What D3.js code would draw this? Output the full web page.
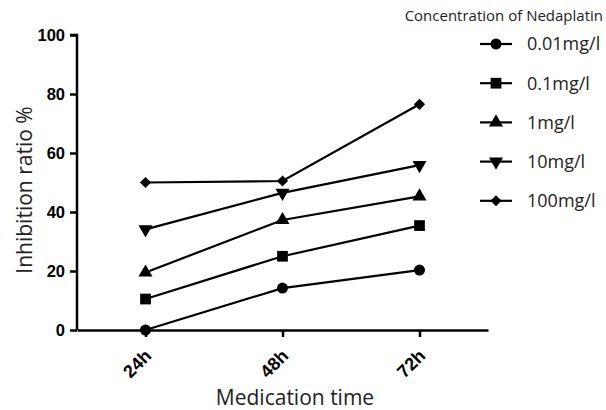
<!DOCTYPE html>
<html>
<head>
<meta charset="utf-8">
<script src="https://cdn.jsdelivr.net/npm/d3@7"></script>
<style>
  body { margin: 0; background: #fff; }
  svg { display: block; }
</style>
</head>
<body>
<div class="container"></div>
<script>
'use strict';

// Data.
var times = ['24h', '48h', '72h'];
var concentrations = ['0.01mg/l', '0.1mg/l', '1mg/l', '10mg/l', '100mg/l'];
var conc001 = [0, 14.2, 20.3];
var conc01 = [10.5, 25, 35.4];
var conc1 = [19.5, 37.3, 45.3];
var conc10 = [34.1, 46.5, 55.9];
var conc100 = [50, 50.5, 76.5];
var yTicks = [0, 20, 40, 60, 80, 100];

var seriesValues = [conc001, conc01, conc1, conc10, conc100];
var symbols = [d3.symbolCircle, d3.symbolSquare, d3.symbolTriangle, d3.symbolTriangle, d3.symbolSquare];
var symbolRotations = [0, 0, 0, 180, 45];
var symbolSizes = [95, 115, 85, 85, 62];

var width = 606, height = 410;
var plotLeft = 77, plotRight = 488, plotTop = 35, plotBottom = 330;

var svg = d3.select('.container').append('svg')
  .attr('width', width)
  .attr('height', height);

var x = d3.scalePoint().domain(times).range([plotLeft, plotRight]).padding(0.5);
var y = d3.scaleLinear().domain([0, 100]).range([plotBottom, plotTop]);

function symbolPath(i) {
  return d3.symbol().type(symbols[i]).size(symbolSizes[i])();
}
function symbolRotate(i) {
  return symbolRotations[i] ? ' rotate(' + symbolRotations[i] + ')' : '';
}

// Y axis
var yAxis = svg.append('g')
  .attr('transform', 'translate(' + plotLeft + ',0)')
  .call(d3.axisLeft(y).tickValues(yTicks).tickSize(7).tickPadding(5));
yAxis.select('.domain').attr('stroke-width', 2.5).attr('d', 'M-7,' + plotTop + 'H0V' + plotBottom);
yAxis.selectAll('.tick line').attr('stroke-width', 2.5);
yAxis.selectAll('.tick text')
  .attr('font-family', 'Liberation Sans, Arial, sans-serif')
  .attr('font-weight', 'bold')
  .attr('font-size', 16.5)
  .attr('fill', '#000');

// X axis
var xAxis = svg.append('g')
  .attr('transform', 'translate(0,' + plotBottom + ')')
  .call(d3.axisBottom(x).tickSize(7).tickSizeOuter(0));
xAxis.select('.domain').attr('stroke-width', 2.5);
xAxis.selectAll('.tick line').attr('stroke-width', 2.5);
xAxis.selectAll('.tick text')
  .attr('font-family', 'Liberation Sans, Arial, sans-serif')
  .attr('font-weight', 'bold')
  .attr('font-size', 18)
  .attr('fill', '#000')
  .attr('text-anchor', 'end')
  .attr('y', 0)
  .attr('dy', 0)
  .attr('transform', 'translate(6.5,27) rotate(-45)');

// Axis titles
svg.append('text')
  .attr('x', 295).attr('y', 405)
  .attr('text-anchor', 'middle')
  .attr('font-family', 'Open Sans, sans-serif')
  .attr('font-size', 21)
  .attr('fill', '#222')
  .text('Medication time');

svg.append('text')
  .attr('transform', 'translate(32,190) rotate(-90)')
  .attr('text-anchor', 'middle')
  .attr('font-family', 'Open Sans, sans-serif')
  .attr('font-size', 21)
  .attr('fill', '#222')
  .text('Inhibition ratio %');

// Lines and points
var line = d3.line()
  .x(function(d, i) { return x(times[i]); })
  .y(function(d) { return y(d); });

seriesValues.forEach(function(vals, i) {
  svg.append('path')
    .datum(vals)
    .attr('d', line)
    .attr('fill', 'none')
    .attr('stroke', '#000')
    .attr('stroke-width', 2.2);

  svg.selectAll('.pt' + i)
    .data(vals)
    .enter().append('path')
    .attr('class', 'pt' + i)
    .attr('d', symbolPath(i))
    .attr('transform', function(d, j) {
      return 'translate(' + x(times[j]) + ',' + y(d) + ')' + symbolRotate(i);
    })
    .attr('fill', '#000');
});

// Legend
svg.append('text')
  .attr('x', 603).attr('y', 21)
  .attr('text-anchor', 'end')
  .attr('font-family', 'Open Sans, sans-serif')
  .attr('font-size', 15)
  .attr('fill', '#222')
  .text('Concentration of Nedaplatin');

var legend = svg.selectAll('.legend')
  .data(concentrations)
  .enter().append('g')
  .attr('class', 'legend')
  .attr('transform', function(d, i) { return 'translate(496,' + (44 + i * 39.2) + ')'; });

legend.append('line')
  .attr('x1', -16).attr('x2', 16)
  .attr('stroke', '#000')
  .attr('stroke-width', 2.2);

legend.append('path')
  .attr('d', function(d, i) { return symbolPath(i); })
  .attr('transform', function(d, i) { return symbolRotate(i).trim(); })
  .attr('fill', '#000');

legend.append('text')
  .attr('x', 31)
  .attr('dy', '0.35em')
  .attr('font-family', 'Open Sans, sans-serif')
  .attr('font-size', 18)
  .attr('fill', '#222')
  .text(function(d) { return d; });
</script>
</body>
</html>
